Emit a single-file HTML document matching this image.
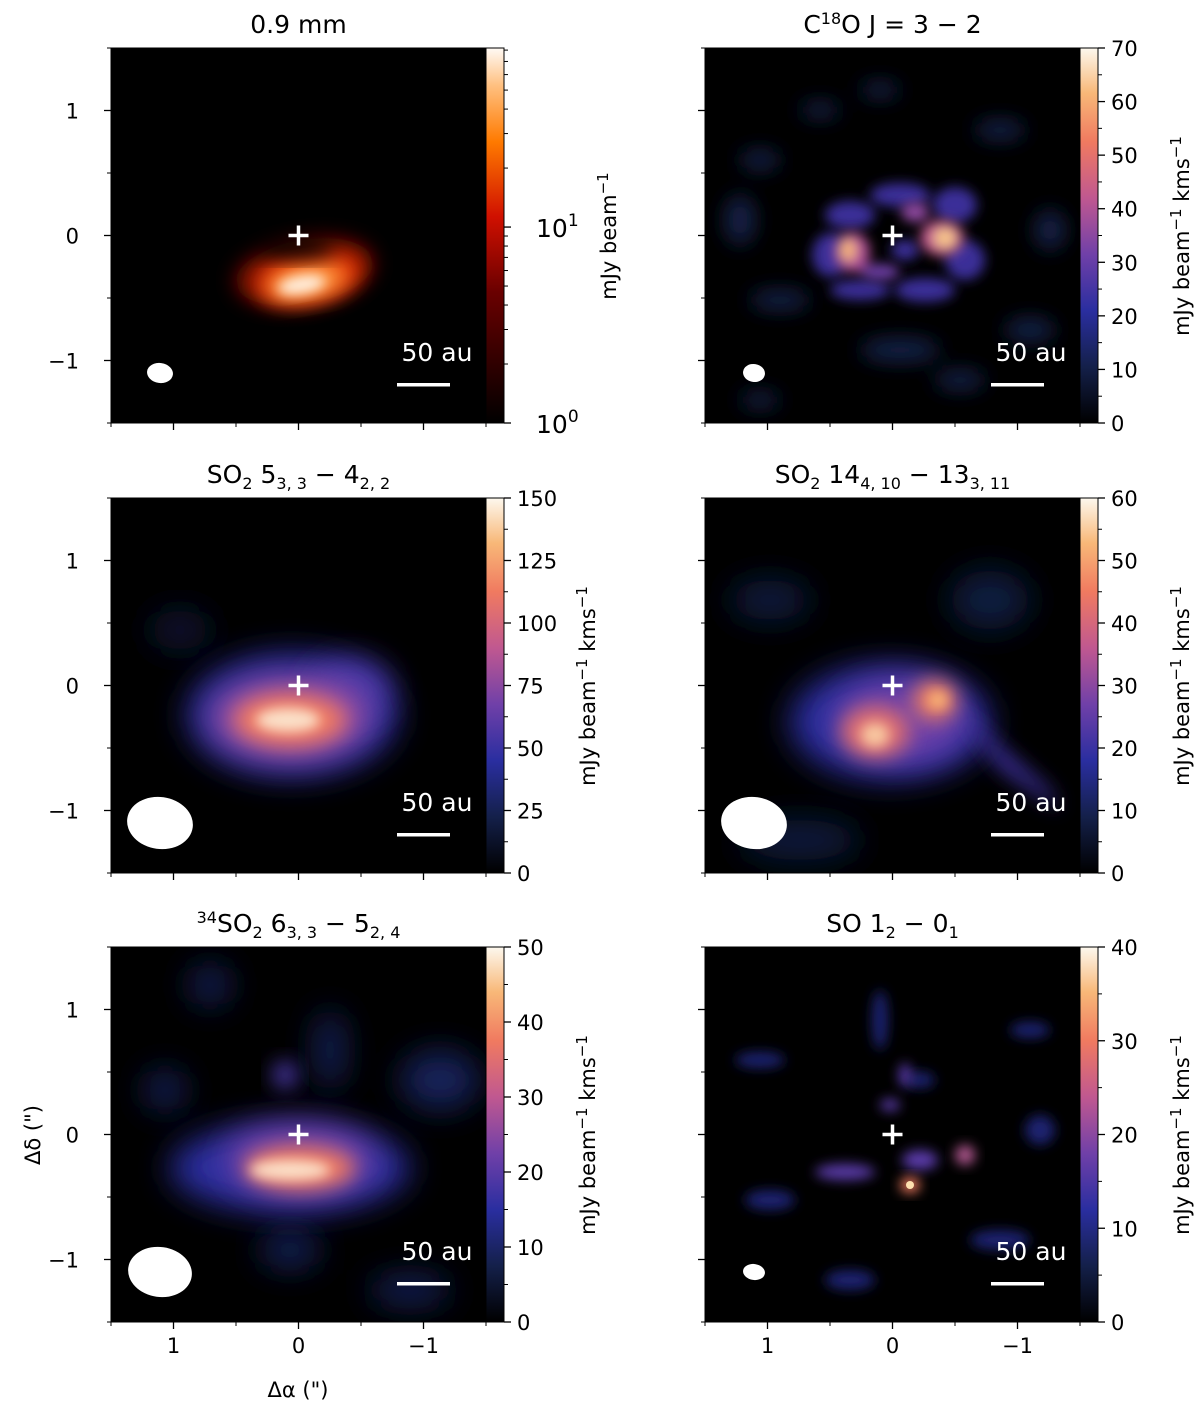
<!DOCTYPE html>
<html><head><meta charset="utf-8"><style>
body{margin:0;background:#fff}
svg{display:block;font-family:"DejaVu Sans","Liberation Sans",sans-serif}
</style></head><body>
<svg id="fig" width="1200" height="1415" viewBox="0 0 1200 1415" xmlns="http://www.w3.org/2000/svg">
<defs>
<filter id="b6" x="-50%" y="-50%" width="200%" height="200%"><feGaussianBlur stdDeviation="6"/></filter>
<filter id="b10" x="-50%" y="-50%" width="200%" height="200%"><feGaussianBlur stdDeviation="10"/></filter>
<filter id="b16" x="-50%" y="-50%" width="200%" height="200%"><feGaussianBlur stdDeviation="16"/></filter>
<linearGradient id="heat" x1="0" y1="1" x2="0" y2="0">
<stop offset="0" stop-color="#000"/><stop offset="0.35" stop-color="#6a0000"/><stop offset="0.55" stop-color="#d01000"/><stop offset="0.75" stop-color="#ff7a00"/><stop offset="0.9" stop-color="#ffc080"/><stop offset="1" stop-color="#fffaf5"/>
</linearGradient>
<linearGradient id="cmr" x1="0" y1="1" x2="0" y2="0">
<stop offset="0" stop-color="#000"/><stop offset="0.15" stop-color="#14204a"/><stop offset="0.3" stop-color="#2a2ea0"/><stop offset="0.45" stop-color="#7040a8"/><stop offset="0.6" stop-color="#c05890"/><stop offset="0.75" stop-color="#f07a60"/><stop offset="0.88" stop-color="#f8b878"/><stop offset="1" stop-color="#fdf8ee"/>
</linearGradient>
<clipPath id="c1"><rect x="111" y="48" width="375" height="375"/></clipPath>
<clipPath id="c2"><rect x="705" y="48" width="375" height="375"/></clipPath>
<clipPath id="c3"><rect x="111" y="498" width="375" height="375"/></clipPath>
<clipPath id="c4"><rect x="705" y="498" width="375" height="375"/></clipPath>
<clipPath id="c5"><rect x="111" y="947" width="375" height="375"/></clipPath>
<clipPath id="c6"><rect x="705" y="947" width="375" height="375"/></clipPath>
</defs>

<g clip-path="url(#c1)">
<rect x="111" y="48" width="375" height="375" fill="#000"/>
<g transform="rotate(-10 305 275)">
<ellipse cx="305" cy="272" rx="70" ry="32" fill="#7a0800" filter="url(#b10)"/>
<ellipse cx="308" cy="278" rx="54" ry="25" fill="#e03000" filter="url(#b10)"/>
<ellipse cx="305" cy="282" rx="40" ry="17" fill="#ff9a40" filter="url(#b10)"/>
<ellipse cx="300" cy="284" rx="24" ry="9" fill="#fff0e0" filter="url(#b6)"/>
</g>
<ellipse cx="296" cy="248" rx="40" ry="10" fill="#000" filter="url(#b10)"/>
</g>
<g clip-path="url(#c2)">
<rect x="705" y="48" width="375" height="375" fill="#000"/>
<g filter="url(#b10)" fill="#12204a">
<ellipse cx="760" cy="160" rx="20" ry="10"/><ellipse cx="1000" cy="130" rx="25" ry="10"/><ellipse cx="780" cy="300" rx="30" ry="10"/><ellipse cx="1030" cy="330" rx="25" ry="12"/><ellipse cx="900" cy="350" rx="40" ry="12"/><ellipse cx="740" cy="220" rx="15" ry="25"/>
<ellipse cx="820" cy="110" rx="20" ry="8"/><ellipse cx="1050" cy="230" rx="15" ry="20"/><ellipse cx="960" cy="380" rx="25" ry="10"/><ellipse cx="760" cy="400" rx="20" ry="8"/><ellipse cx="880" cy="90" rx="20" ry="8"/>
</g>
<g filter="url(#b6)" fill="#3a2f98">
<ellipse cx="850" cy="215" rx="25" ry="14"/><ellipse cx="900" cy="195" rx="30" ry="12"/><ellipse cx="955" cy="205" rx="22" ry="18"/><ellipse cx="965" cy="260" rx="20" ry="20"/><ellipse cx="925" cy="290" rx="30" ry="12"/><ellipse cx="860" cy="290" rx="30" ry="10"/><ellipse cx="830" cy="255" rx="18" ry="22"/><ellipse cx="905" cy="250" rx="14" ry="10"/>
</g>
<g filter="url(#b6)">
<ellipse cx="852" cy="252" rx="18" ry="20" fill="#b05098"/><ellipse cx="942" cy="238" rx="22" ry="18" fill="#c05890"/><ellipse cx="915" cy="212" rx="14" ry="10" fill="#9048a0"/><ellipse cx="880" cy="272" rx="20" ry="8" fill="#7040a8"/>
<ellipse cx="848" cy="250" rx="8" ry="11" fill="#f8b878"/><ellipse cx="945" cy="238" rx="11" ry="10" fill="#f8c888"/>
</g>
</g>
<g clip-path="url(#c3)">
<rect x="111" y="498" width="375" height="375" fill="#000"/>
<ellipse cx="180" cy="630" rx="30" ry="20" fill="#0c1530" filter="url(#b16)"/>
<ellipse cx="292" cy="715" rx="105" ry="62" fill="#2a2ea0" filter="url(#b16)"/>
<ellipse cx="350" cy="690" rx="40" ry="30" fill="#4a38a8" filter="url(#b16)"/>
<ellipse cx="290" cy="718" rx="78" ry="40" fill="#a050a0" filter="url(#b16)"/>
<ellipse cx="290" cy="720" rx="55" ry="26" fill="#f07a60" filter="url(#b10)"/>
<ellipse cx="288" cy="720" rx="32" ry="12" fill="#fbe0c8" filter="url(#b6)"/>
</g>
<g clip-path="url(#c4)">
<rect x="705" y="498" width="375" height="375" fill="#000"/>
<g filter="url(#b16)" fill="#101a40">
<ellipse cx="770" cy="600" rx="40" ry="20"/><ellipse cx="990" cy="600" rx="40" ry="30"/><ellipse cx="800" cy="840" rx="60" ry="20"/>
</g>
<ellipse cx="890" cy="722" rx="100" ry="58" fill="#2a2ea0" filter="url(#b16)"/>
<polygon points="950,700 1050,790 1060,810 1000,770" fill="#3a2f98" filter="url(#b10)"/>
<ellipse cx="900" cy="720" rx="65" ry="40" fill="#7040a8" filter="url(#b16)"/>
<ellipse cx="875" cy="732" rx="34" ry="26" fill="#e07070" filter="url(#b10)"/>
<ellipse cx="935" cy="700" rx="22" ry="20" fill="#f08060" filter="url(#b10)"/>
<ellipse cx="875" cy="735" rx="14" ry="12" fill="#f8c8a0" filter="url(#b6)"/>
<ellipse cx="938" cy="700" rx="9" ry="8" fill="#f8b878" filter="url(#b6)"/>
</g>
<g clip-path="url(#c5)">
<rect x="111" y="947" width="375" height="375" fill="#000"/>
<g filter="url(#b16)" fill="#14205a">
<ellipse cx="210" cy="985" rx="20" ry="20"/><ellipse cx="440" cy="1080" rx="40" ry="30"/><ellipse cx="165" cy="1090" rx="20" ry="20"/><ellipse cx="330" cy="1050" rx="15" ry="40"/><ellipse cx="410" cy="1290" rx="40" ry="15"/><ellipse cx="290" cy="1250" rx="30" ry="18"/>
</g>
<ellipse cx="285" cy="1075" rx="12" ry="14" fill="#4a38a8" filter="url(#b10)"/>
<ellipse cx="290" cy="1168" rx="120" ry="45" fill="#2a2ea0" filter="url(#b16)"/>
<ellipse cx="300" cy="1160" rx="75" ry="35" fill="#7040a8" filter="url(#b16)"/>
<ellipse cx="300" cy="1168" rx="55" ry="22" fill="#f07a60" filter="url(#b10)"/>
<ellipse cx="290" cy="1170" rx="40" ry="10" fill="#fbe0c8" filter="url(#b6)"/>
</g>
<g clip-path="url(#c6)">
<rect x="705" y="947" width="375" height="375" fill="#000"/>
<g filter="url(#b6)" fill="#1a2370">
<ellipse cx="760" cy="1060" rx="25" ry="8"/><ellipse cx="1030" cy="1030" rx="20" ry="8"/><ellipse cx="880" cy="1020" rx="8" ry="30"/><ellipse cx="770" cy="1200" rx="25" ry="10"/><ellipse cx="1000" cy="1240" rx="30" ry="10"/><ellipse cx="850" cy="1280" rx="25" ry="10"/><ellipse cx="1040" cy="1130" rx="15" ry="15"/><ellipse cx="920" cy="1080" rx="15" ry="8"/>
</g>
<g filter="url(#b6)" fill="#5a3aa8">
<ellipse cx="845" cy="1172" rx="30" ry="8"/><ellipse cx="920" cy="1160" rx="18" ry="10"/><ellipse cx="905" cy="1075" rx="6" ry="12"/><ellipse cx="890" cy="1105" rx="10" ry="6"/>
</g>
<ellipse cx="965" cy="1155" rx="10" ry="10" fill="#b05890" filter="url(#b6)"/>
<ellipse cx="910" cy="1185" rx="10" ry="8" fill="#f07a60" filter="url(#b6)"/>
<ellipse cx="910" cy="1185" rx="4" ry="4" fill="#fde0b0"/>
</g>

<g id="overlay"></g>
</svg>
<script>
const panelTitles = ["0.9 mm", "C18O", "SO2 5", "SO2 14", "34SO2", "SO"];
const cbMax = [82, 70, 150, 60, 50, 40];
const cbTicks1 = [1, 10];
const cbTicks2 = [0, 10, 20, 30, 40, 50, 60, 70];
const cbTicks3 = [0, 25, 50, 75, 100, 125, 150];
const cbTicks4 = [0, 10, 20, 30, 40, 50, 60];
const cbTicks5 = [0, 10, 20, 30, 40, 50];
const cbTicks6 = [0, 10, 20, 30, 40];
const axisTicks = [1, 0, -1];
const axisMinor = [1.5, 0.5, -0.5, -1.5];
const beamRx = [13, 11, 33, 33, 32, 11];
const beamRy = [10, 9, 26, 26, 25, 8];

const NS = "http://www.w3.org/2000/svg";
const ov = document.getElementById('overlay');
function mk(tag, attrs, parent, txt) {
  const e = document.createElementNS(NS, tag);
  for (const k in attrs) e.setAttribute(k, attrs[k]);
  if (txt !== undefined) e.textContent = txt;
  (parent || ov).appendChild(e);
  return e;
}
const X0 = [111, 705], Y0 = [48, 498, 947], S = 375, CW = 18;
const cbTickSets = [cbTicks1, cbTicks2, cbTicks3, cbTicks4, cbTicks5, cbTicks6];
const titlesHTML = [
  '0.9 mm',
  'C<tspan font-size="16" dy="-9">18</tspan><tspan dy="9">O J = 3 − 2</tspan>',
  'SO<tspan font-size="16" dy="6">2</tspan><tspan dy="-6"> 5</tspan><tspan font-size="16" dy="6">3, 3</tspan><tspan dy="-6"> − 4</tspan><tspan font-size="16" dy="6">2, 2</tspan>',
  'SO<tspan font-size="16" dy="6">2</tspan><tspan dy="-6"> 14</tspan><tspan font-size="16" dy="6">4, 10</tspan><tspan dy="-6"> − 13</tspan><tspan font-size="16" dy="6">3, 11</tspan>',
  '<tspan font-size="16" dy="-9">34</tspan><tspan dy="9">SO</tspan><tspan font-size="16" dy="6">2</tspan><tspan dy="-6"> 6</tspan><tspan font-size="16" dy="6">3, 3</tspan><tspan dy="-6"> − 5</tspan><tspan font-size="16" dy="6">2, 4</tspan>',
  'SO 1<tspan font-size="16" dy="6">2</tspan><tspan dy="-6"> − 0</tspan><tspan font-size="16" dy="6">1</tspan>'
];
for (let i = 0; i < 6; i++) {
  const col = i % 2, row = Math.floor(i / 2);
  const x0 = X0[col], y0 = Y0[row];
  const px = a => x0 + S / 2 - a * 125;
  const py = d => y0 + S / 2 - d * 125;
  const g = mk('g', {});
  
  
  mk('rect', {x: x0, y: y0, width: S, height: S, fill: 'none', stroke: '#000', 'stroke-width': 1}, g);
  const t = mk('text', {x: x0 + S / 2, y: y0 - 15, 'text-anchor': 'middle', 'font-size': 25, fill: '#000'}, g);
  t.innerHTML = titlesHTML[i];
  
  
  axisTicks.forEach(a => {
    mk('line', {x1: px(a), x2: px(a), y1: y0 + S, y2: y0 + S + 7, stroke: '#000', 'stroke-width': 1.3}, g);
    if (row === 2) {
      const tl = mk('text', {x: px(a), y: y0 + S + 31, 'text-anchor': 'middle', 'font-size': 21}, g, a < 0 ? '−' + (-a) : String(a));
      
      
    }
    mk('line', {x1: x0, x2: x0 - 7, y1: py(a), y2: py(a), stroke: '#000', 'stroke-width': 1.3}, g);
    if (col === 0) {
      const yl = mk('text', {x: x0 - 32, y: py(a) + 8, 'text-anchor': 'end', 'font-size': 21}, g, a < 0 ? '−' + (-a) : String(a));
      
      
    }
  });
  axisMinor.forEach(a => {
    mk('line', {x1: px(a), x2: px(a), y1: y0 + S, y2: y0 + S + 4, stroke: '#000'}, g);
    mk('line', {x1: x0, x2: x0 - 4, y1: py(a), y2: py(a), stroke: '#000'}, g);
  });
  mk('line', {x1: px(0) - 10, x2: px(0) + 10, y1: py(0), y2: py(0), stroke: '#fff', 'stroke-width': 3.5}, g);
  mk('line', {x1: px(0), x2: px(0), y1: py(0) - 10, y2: py(0) + 10, stroke: '#fff', 'stroke-width': 3.5}, g);
  const bm = mk('ellipse', {cx: x0 + 49, cy: y0 + 325, rx: beamRx[i], ry: beamRy[i], fill: '#fff', transform: 'rotate(8 ' + (x0 + 49) + ' ' + (y0 + 325) + ')'}, g);
  
  
  const sb = mk('text', {x: x0 + 326, y: y0 + 313, 'text-anchor': 'middle', 'font-size': 25, fill: '#fff'}, g, '50 au');
  
  
  const sl = mk('rect', {x: x0 + 286, y: y0 + 335, width: 53, height: 3.5, fill: '#fff'}, g);
  
  
  const cx = x0 + S;
  const cb = mk('rect', {x: cx, y: y0, width: CW, height: S, fill: i === 0 ? 'url(#heat)' : 'url(#cmr)', stroke: '#000', 'stroke-width': 1}, g);
  
  
  const ticks = cbTickSets[i];
  if (i === 0) {
    const ly = v => y0 + S - Math.log10(v) / Math.log10(cbMax[0]) * S;
    ticks.forEach(v => {
      mk('line', {x1: cx + CW, x2: cx + CW + 7, y1: ly(v), y2: ly(v), stroke: '#000', 'stroke-width': 1.3}, g);
      const tl = mk('text', {x: cx + CW + 32, y: ly(v) + 10, 'font-size': 25}, g);
      tl.innerHTML = '10<tspan font-size="17" dy="-11">' + Math.round(Math.log10(v)) + '</tspan>';
      
      
    });
    for (let d = 1; d <= 10; d *= 10) for (let m = 2; m <= 9; m++) {
      const v = d * m; if (v > cbMax[0]) continue;
      mk('line', {x1: cx + CW, x2: cx + CW + 4, y1: ly(v), y2: ly(v), stroke: '#000'}, g);
    }
    const lab = mk('text', {transform: 'translate(' + (cx + CW + 112) + ',' + (y0 + 188) + ') rotate(-90)', 'text-anchor': 'middle', 'font-size': 21}, g);
    lab.innerHTML = 'mJy beam<tspan font-size="15" dy="-8">−1</tspan>';
    
    
  } else {
    const ly = v => y0 + S - v / cbMax[i] * S;
    const step = ticks[1] - ticks[0];
    ticks.forEach(v => {
      mk('line', {x1: cx + CW, x2: cx + CW + 7, y1: ly(v), y2: ly(v), stroke: '#000', 'stroke-width': 1.3}, g);
      const tl = mk('text', {x: cx + CW + 13, y: ly(v) + 8, 'font-size': 21}, g, String(v));
      
      
    });
    for (let v = step / 2; v < cbMax[i]; v += step) {
      mk('line', {x1: cx + CW, x2: cx + CW + 4, y1: ly(v), y2: ly(v), stroke: '#000'}, g);
    }
    const lab = mk('text', {transform: 'translate(' + (cx + CW + 91) + ',' + (y0 + 188) + ') rotate(-90)', 'text-anchor': 'middle', 'font-size': 21}, g);
    lab.innerHTML = 'mJy beam<tspan font-size="15" dy="-8">−1</tspan><tspan dy="8"> kms</tspan><tspan font-size="15" dy="-8">−1</tspan>';
    
    
  }
}
const xl = mk('text', {x: 298, y: 1397, 'text-anchor': 'middle', 'font-size': 21}, ov, 'Δα (")');


const yl = mk('text', {transform: 'translate(40,1135) rotate(-90)', 'text-anchor': 'middle', 'font-size': 21}, ov, 'Δδ (")');


</script>
</body></html>
